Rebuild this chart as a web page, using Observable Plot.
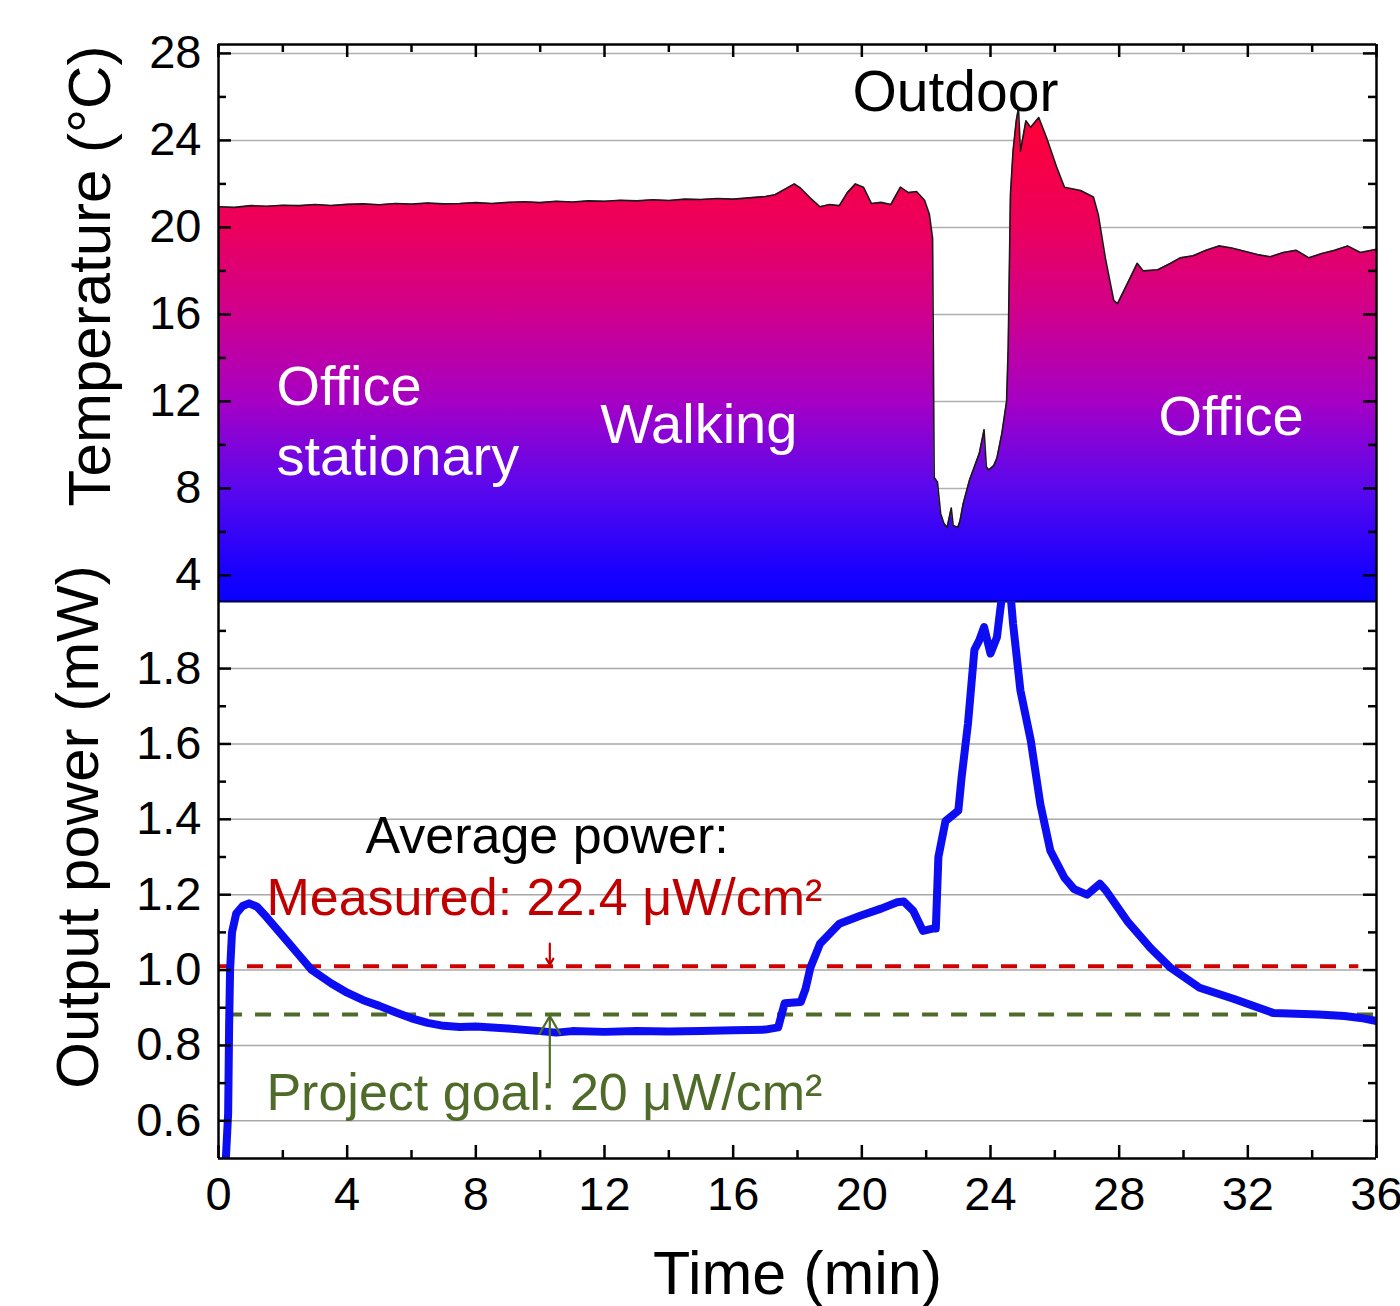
<!DOCTYPE html>
<html><head><meta charset="utf-8">
<script src="https://cdn.jsdelivr.net/npm/d3@7"></script>
<script src="https://cdn.jsdelivr.net/npm/@observablehq/plot@0.6"></script>
<style>
html,body{margin:0;padding:0;background:#fff;overflow:hidden;}
#chart svg{display:block;max-width:none !important;}
</style></head><body><div id="chart"></div>
<script>
// ---------- data ----------
const tempTime = [0,0.5,1,1.5,2,2.5,3,3.5,4,4.5,5,5.5,6,6.5,7,7.5,8,8.5,9,9.5,10,10.5,11,11.5,12,12.5,13,13.5,14,14.5,15,15.5,16,16.5,17,
  17.3,17.6,17.9,18.1,18.4,18.7,19.0,19.3,19.55,19.8,
  20.05,20.3,20.6,20.9,21.2,21.45,21.7,21.95,22.1,22.2,
  22.25,22.35,22.45,22.55,22.65,22.78,22.84,22.98,23.05,23.15,
  23.35,23.65,23.8,23.87,23.95,24.1,24.2,24.35,24.5,24.55,
  24.62,24.7,24.8,24.87,24.93,25.1,25.25,25.5,25.75,26.05,
  26.3,26.8,27.2,27.35,27.57,27.83,27.95,28.25,28.56,28.75,
  29.2,29.6,29.9,30.3,30.7,31.1,31.5,31.9,32.3,32.7,
  33.1,33.5,33.9,34.3,34.7,35.1,35.5,36];
const tempValue = [20.95,20.92,21.0,20.97,21.02,21.0,21.05,21.01,21.06,21.08,
  21.04,21.1,21.07,21.12,21.08,21.1,21.14,21.1,21.15,21.18,
  21.14,21.2,21.17,21.22,21.2,21.25,21.22,21.27,21.24,21.3,
  21.28,21.33,21.3,21.36,21.42,
  21.5,21.75,22.0,21.8,21.35,20.95,21.05,21.0,21.6,22.0,
  21.85,21.1,21.15,21.05,21.85,21.6,21.65,21.25,20.6,19.5,
  8.5,8.3,6.85,6.4,6.2,7.1,6.3,6.2,6.5,7.3,
  8.4,9.6,10.7,9.0,8.85,9.05,9.4,10.5,12.0,14.5,
  21.5,23.5,24.9,25.5,23.5,24.9,24.6,25.05,24.1,22.8,
  21.85,21.7,21.4,20.6,18.6,16.65,16.5,17.4,18.35,18.0,
  18.05,18.35,18.6,18.7,18.95,19.15,19.05,18.9,18.75,18.65,
  18.85,18.95,18.6,18.8,18.95,19.15,18.85,19.0];

const powerTime = [0.2,0.3,0.33,0.36,0.42,0.55,0.75,0.95,1.2,1.5,
  2.0,2.5,2.9,3.5,4.0,4.5,5.0,5.5,6.0,6.5,
  7.0,7.5,8.0,9.0,10.0,10.5,11.0,12.0,13.0,14.0,
  15.0,16.0,17.0,17.4,17.5,17.6,18.1,18.25,18.4,18.7,
  19.3,19.95,20.6,21.1,21.3,21.6,21.9,22.2,22.3,22.38,
  22.6,23.0,23.1,23.3,23.5,23.65,23.8,24.0,24.2,24.3,
  24.4,24.6,24.7,24.93,25.25,25.55,25.86,26.3,26.6,27.0,
  27.4,27.6,28.25,28.97,29.6,30.5,31.55,32.8,33.5,34.2,
  35.0,35.5,36.0];
const powerValue = [0.45,0.62,0.85,1.0,1.1,1.15,1.17,1.177,1.168,1.14,
  1.09,1.04,1.0,0.965,0.94,0.92,0.905,0.888,0.872,0.86,
  0.852,0.849,0.85,0.845,0.838,0.834,0.838,0.836,0.838,0.837,
  0.838,0.84,0.842,0.848,0.88,0.912,0.915,0.95,1.006,1.07,
  1.123,1.144,1.163,1.18,1.182,1.157,1.104,1.11,1.11,1.3,
  1.395,1.423,1.51,1.654,1.85,1.875,1.91,1.84,1.883,1.954,
  2.02,2.02,1.92,1.742,1.61,1.44,1.317,1.245,1.215,1.2,
  1.229,1.21,1.13,1.059,1.006,0.953,0.924,0.886,0.884,0.882,
  0.878,0.873,0.865];

const xMajor = [0,4,8,12,16,20,24,28,32,36];
const xMinor = [2,6,10,14,18,22,26,30,34];
const tempMajor = [4,8,12,16,20,24,28];
const tempMinor = [6,10,14,18,22,26];
const powerMajor = [0.6,0.8,1.0,1.2,1.4,1.6,1.8];
const powerMinor = [0.7,0.9,1.1,1.3,1.5,1.7,1.9];

const xDomain = [0, 36];
const tempDomain = [2.8, 28.41];
const powerDomain = [0.5, 1.978];

const refMeasured = [{value: 1.01, from: 0, to: 35.45}];
const refGoal = [{value: 0.882, from: 0.25, to: 36}];
const arrowMeasured = [{t: 10.3, from: 1.07, to: 1.014}];
const arrowGoal = [{t: 10.3, from: 0.70, to: 0.878}];

const gradStops = [
  {v: 28.41, c: "#ff0020"}, {v: 24, c: "#fa003e"}, {v: 20, c: "#ec005c"},
  {v: 16, c: "#cf008e"}, {v: 12, c: "#a600c4"}, {v: 8, c: "#5a08ee"},
  {v: 4, c: "#1600ff"}, {v: 2.8, c: "#0a00ff"}
];

const topWhiteLabels = [
  {text: "Office", t: 1.8, v: 12.64},
  {text: "stationary", t: 1.8, v: 9.43},
  {text: "Walking", t: 11.87, v: 10.9},
  {text: "Office", t: 29.22, v: 11.26}
];
const topBlackLabels = [{text: "Outdoor", t: 22.91, v: 26.2}];
const bottomLabels = [
  {text: "Average power:", t: 4.57, v: 1.354, color: "#000000"},
  {text: "Measured: 22.4 μW/cm²", t: 1.49, v: 1.189, color: "#c00000"},
  {text: "Project goal: 20 μW/cm²", t: 1.49, v: 0.674, color: "#4f6b2a"}
];

// ---------- layout ----------
const W = 1400, ML = 218, MR = 24;
const plotW = W - ML - MR;
const topH = 601, topMT = 44;
const botH = 705, botMB = 148;
const panelH = topH - topMT;
const FONT = "'Liberation Sans', Arial, Helvetica, sans-serif";
const majorLen = 13, minorLen = 8;

const tempData = d3.zip(tempTime, tempValue).map(([t, v]) => ({t, v}));
const powerData = d3.zip(powerTime, powerValue).map(([t, v]) => ({t, v}));

function gradientDefs(id, stops) {
  return (index, scales) => {
    const ys = (scales && scales.y) ? scales.y : d3.scaleLinear(tempDomain, [topH, topMT]);
    const ns = "http://www.w3.org/2000/svg";
    const defs = document.createElementNS(ns, "defs");
    const g = document.createElementNS(ns, "linearGradient");
    g.setAttribute("id", id);
    g.setAttribute("gradientUnits", "userSpaceOnUse");
    const y0 = ys(stops[0].v), y1 = ys(stops[stops.length - 1].v);
    g.setAttribute("x1", 0); g.setAttribute("x2", 0);
    g.setAttribute("y1", y0); g.setAttribute("y2", y1);
    for (const s of stops) {
      const st = document.createElementNS(ns, "stop");
      st.setAttribute("offset", (ys(s.v) - y0) / (y1 - y0));
      st.setAttribute("stop-color", s.c);
      g.appendChild(st);
    }
    defs.appendChild(g);
    return defs;
  };
}

function yTicks(values, len, side) {
  return Plot.tickY(values, {y: d => d, stroke: "black", strokeWidth: 2.5,
    ...(side === "left" ? {insetRight: plotW - len} : {insetLeft: plotW - len})});
}
function xTicks(values, len, side) {
  return Plot.tickX(values, {x: d => d, stroke: "black", strokeWidth: 2.5,
    ...(side === "top" ? {insetBottom: panelH - len} : {insetTop: panelH - len})});
}

const topChart = Plot.plot({
  width: W, height: topH, marginLeft: ML, marginRight: MR, marginTop: topMT, marginBottom: 0,
  x: {domain: xDomain, axis: null},
  y: {domain: tempDomain, axis: null},
  style: {fontFamily: FONT, fontSize: "47px", color: "black", background: "white", overflow: "visible"},
  marks: [
    gradientDefs("tempGrad", gradStops),
    Plot.ruleY(tempMajor, {y: d => d, stroke: "#b0b0b0", strokeWidth: 1.5}),
    Plot.areaY(tempData, {x: "t", y1: tempDomain[0], y2: "v", fill: "url(#tempGrad)", curve: "linear"}),
    Plot.line(tempData, {x: "t", y: "v", stroke: "#1a1a1a", strokeWidth: 1.6}),
    Plot.ruleY([tempDomain[0]], {stroke: "#00004a", strokeWidth: 2}),
    yTicks(tempMajor, majorLen, "left"), yTicks(tempMinor, minorLen, "left"),
    yTicks(tempMajor, majorLen, "right"), yTicks(tempMinor, minorLen, "right"),
    xTicks(xMajor, majorLen, "top"), xTicks(xMinor, minorLen, "top"),
    Plot.ruleX([xDomain[0], xDomain[1]], {x: d => d, stroke: "black", strokeWidth: 2.5}),
    Plot.ruleY([tempDomain[1]], {stroke: "black", strokeWidth: 2.5}),
    Plot.axisY(tempMajor, {anchor: "left", tickSize: 0, tickPadding: 17, fontSize: 47, label: null, tickFormat: d => String(d)}),
    Plot.text(["Temperature (°C)"], {text: d => d, frameAnchor: "left", textAnchor: "middle", lineAnchor: "middle", dx: -128, dy: -47, rotate: -90, fontSize: 60, fill: "black"}),
    Plot.text(topBlackLabels, {x: "t", y: "v", text: "text", fill: "black", fontSize: 57, textAnchor: "middle"}),
    Plot.text(topWhiteLabels, {x: "t", y: "v", text: "text", fill: "white", fontSize: 56, textAnchor: "start"})
  ]
});

const botChart = Plot.plot({
  width: W, height: botH, marginLeft: ML, marginRight: MR, marginTop: 0, marginBottom: botMB,
  x: {domain: xDomain, axis: null},
  y: {domain: powerDomain, axis: null},
  style: {fontFamily: FONT, fontSize: "47px", color: "black", background: "white", overflow: "visible"},
  marks: [
    Plot.ruleY(powerMajor, {y: d => d, stroke: "#a8a8a8", strokeWidth: 1.5}),
    Plot.ruleY(refMeasured, {y: "value", x1: "from", x2: "to", stroke: "#d00000", strokeWidth: 4, strokeDasharray: "16,13"}),
    Plot.ruleY(refGoal, {y: "value", x1: "from", x2: "to", stroke: "#4f6b2a", strokeWidth: 4, strokeDasharray: "16,13"}),
    Plot.line(powerData, {x: "t", y: "v", stroke: "#0d0df2", strokeWidth: 8, strokeLinejoin: "round", strokeLinecap: "round", clip: true}),
    Plot.arrow(arrowMeasured, {x1: "t", x2: "t", y1: "from", y2: "to", stroke: "#c00000", strokeWidth: 2.2, headLength: 14}),
    Plot.arrow(arrowGoal, {x1: "t", x2: "t", y1: "from", y2: "to", stroke: "#4f6b2a", strokeWidth: 2.2, headLength: 14}),
    yTicks(powerMajor, majorLen, "left"), yTicks(powerMinor, minorLen, "left"),
    yTicks(powerMajor, majorLen, "right"), yTicks(powerMinor, minorLen, "right"),
    xTicks(xMajor, majorLen, "bottom"), xTicks(xMinor, minorLen, "bottom"),
    Plot.ruleX([xDomain[0], xDomain[1]], {x: d => d, stroke: "black", strokeWidth: 2.5}),
    Plot.ruleY([powerDomain[0]], {stroke: "black", strokeWidth: 2.5}),
    Plot.axisY(powerMajor, {anchor: "left", tickSize: 0, tickPadding: 17, fontSize: 47, label: null, tickFormat: d => d.toFixed(1)}),
    Plot.axisX(xMajor, {anchor: "bottom", tickSize: 0, tickPadding: 18, fontSize: 47, label: null, tickFormat: d => String(d)}),
    Plot.text(["Output power (mW)"], {text: d => d, frameAnchor: "left", textAnchor: "middle", lineAnchor: "middle", dx: -140, dy: -53, rotate: -90, fontSize: 60, fill: "black"}),
    Plot.text(["Time (min)"], {text: d => d, frameAnchor: "bottom", textAnchor: "middle", lineAnchor: "middle", dy: 116, fontSize: 61, fill: "black"}),
    Plot.text(bottomLabels, {x: "t", y: "v", text: "text", fill: d => d.color, fontSize: 52, textAnchor: "start"})
  ]
});

const root = document.getElementById("chart");
root.appendChild(topChart);
root.appendChild(botChart);
</script></body></html>
